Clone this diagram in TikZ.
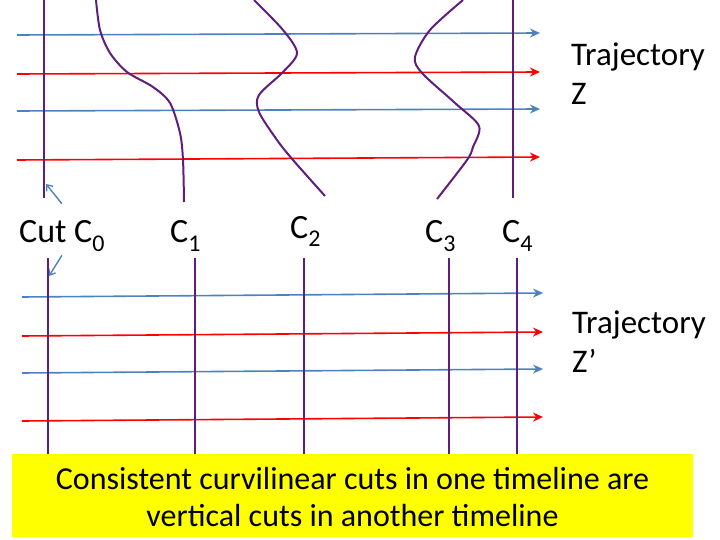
\documentclass[tikz,border=0pt]{standalone}
\usepackage{fontspec}
\setmainfont{Carlito}
\usepackage{xcolor}
\usepackage{tikz}
\usetikzlibrary{arrows.meta,positioning,calc}
\definecolor{trajblue}{HTML}{4F81BD}
\definecolor{trajred}{HTML}{FF0000}
\definecolor{cutpurple}{HTML}{5F1E7E}
\definecolor{notebox}{HTML}{FFFF00}
\newcommand{\cutname}[1]{C\raisebox{-9pt}{\fontsize{24}{24}\selectfont #1}}

\begin{document}
\begin{tikzpicture}[x=1pt,y=-1pt,
  blueline/.style={trajblue,line width=1.6pt,-{Stealth[length=10pt,width=9pt]}},
  redline/.style={trajred,line width=1.6pt,-{Stealth[length=10pt,width=9pt]}},
  cutline/.style={cutpurple,line width=2pt},
  pointer/.style={trajblue,line width=1.4pt,-{Straight Barb[length=5pt,width=8pt]}},
  lbl/.style={inner sep=0pt,anchor=base west,font=\fontsize{34}{40}\selectfont},
  trajlbl/.style={inner sep=0pt,anchor=north west,align=left,font=\fontsize{33}{39}\selectfont}]
  \useasboundingbox (0,0) rectangle (720,540);
  % timeline Z
  \draw[blueline] (17,35) -- (540,33);
  \draw[redline] (17,74) -- (540,72);
  \draw[blueline] (17,111) -- (540,109);
  \draw[redline] (17,160) -- (540,157);
  \draw[cutline] (44,0) -- (44,198);
  \draw[cutline] plot[smooth] coordinates {(96,0) (100,30) (110,53) (127,72) (153,87) (170,103) (180,133) (183,160) (184,202)};
  \draw[cutline] plot[smooth] coordinates {(254,0) (283,30) (297,53) (283,72) (259,95) (259,112) (277,140) (293,160) (325,196)};
  \draw[cutline] plot[smooth] coordinates {(463,0) (430,30) (415,57) (422,73) (455,103) (479,126) (473,147) (467,160) (437,199)};
  \draw[cutline] (513,0) -- (513,198);
  \node[trajlbl] (trajz) at (571,43) {Trajectory\\Z};
  % cut labels
  \node[lbl] (cut0) at (19,243) {Cut \cutname{0}};
  \node[lbl] (cut1) at (170,243) {\cutname{1}};
  \node[lbl] (cut2) at (290,238) {\cutname{2}};
  \node[lbl] (cut3) at (425,243) {\cutname{3}};
  \node[lbl] (cut4) at (502,243) {\cutname{4}};
  \coordinate (c0up) at (46,184);
  \coordinate (c0down) at (49,276);
  \draw[pointer] ([yshift=17pt]cut0.north) -- (c0up);
  \draw[pointer] ([yshift=-3pt]cut0.south) -- (c0down);
  % timeline Z'
  \draw[blueline] (22,297) -- (543,293);
  \draw[redline] (22,336) -- (543,332);
  \draw[blueline] (22,373) -- (543,369);
  \draw[redline] (22,421) -- (543,417);
  \foreach \cx in {48,195,304,449,517}
    \draw[cutline] (\cx,258) -- (\cx,454);
  \node[trajlbl] (trajzp) at (572,311) {Trajectory\\Z’};
  % note
  \fill[notebox] (12,454) rectangle (693,537);
  \node[inner sep=0pt,anchor=north,align=center,font=\fontsize{32}{37}\selectfont] (note) at (352.5,467)
    {Consistent curvilinear cuts in one timeline are\\vertical cuts in another timeline};
\end{tikzpicture}
\end{document}
